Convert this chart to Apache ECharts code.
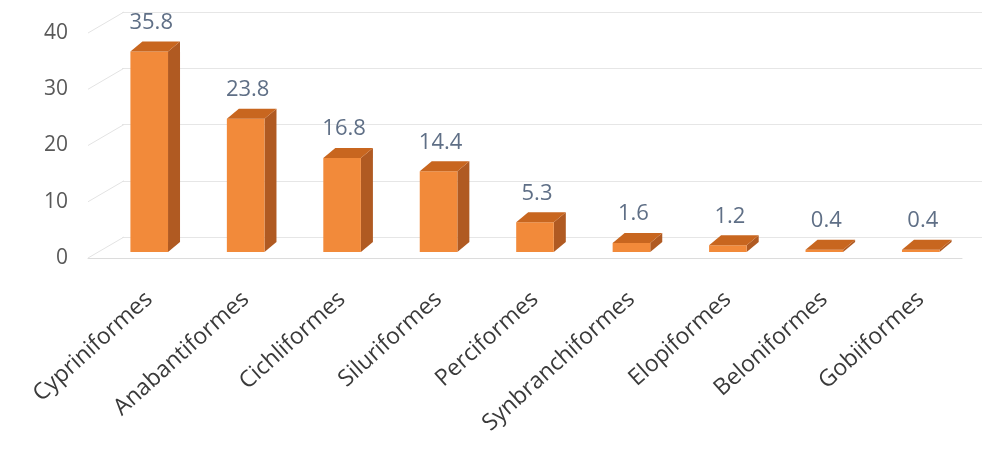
<!DOCTYPE html>
<html>
<head>
<meta charset="utf-8">
<script src="https://cdn.jsdelivr.net/npm/echarts@6/dist/echarts.min.js"></script>
<style>
  html, body { margin: 0; padding: 0; background: #fff; }
  #main { width: 982px; height: 461px; }
</style>
</head>
<body>
<div id="main"></div>
<script>
var categories = ['Cypriniformes', 'Anabantiformes', 'Cichliformes', 'Siluriformes', 'Perciformes',
	'Synbranchiformes', 'Elopiformes', 'Beloniformes', 'Gobiiformes'];
var values = [35.8, 23.8, 16.8, 14.4, 5.3, 1.6, 1.2, 0.4, 0.4];
var yTicks = [0, 10, 20, 30, 40];

var myChart = echarts.init(document.getElementById('main'));

// depth offset for the fake 3D look
var DX = 12, DY = -10;

function renderBar(params, api) {
	var i = api.value(0), v = api.value(1);
	var top = api.coord([i, v]);
	var base = api.coord([i, 0]);
	var w = api.size([1, 0])[0] * 0.39;
	var x0 = top[0] - w / 2, x1 = top[0] + w / 2;
	return {
		type: 'group',
		children: [
			{
				type: 'polygon',
				shape: { points: [[x1, top[1]], [x1 + DX, top[1] + DY], [x1 + DX, base[1] + DY], [x1, base[1]]] },
				style: { fill: '#b05a22' }
			},
			{
				type: 'rect',
				shape: { x: x0, y: top[1], width: w, height: base[1] - top[1] },
				style: { fill: '#f28a3a' }
			},
			{
				type: 'polygon',
				shape: { points: [[x0, top[1]], [x0 + DX, top[1] + DY], [x1 + DX, top[1] + DY], [x1, top[1]]] },
				style: { fill: '#c8661f' }
			},
			{
				type: 'text',
				x: top[0] + 2,
				y: top[1] - 29,
				style: {
					text: String(v),
					fill: '#5f6f86',
					fontSize: 22,
					fontFamily: 'Open Sans',
					align: 'center',
					verticalAlign: 'middle'
				}
			}
		]
	};
}

function renderWall(params, api) {
	var p = api.coord([0, api.value(1)]);
	return {
		type: 'line',
		shape: { x1: p[0], y1: p[1], x2: p[0] + 36, y2: p[1] - 21 },
		style: { stroke: '#e3e3e3', lineWidth: 1 }
	};
}

option = {
	animation: false,
	grid: [
		{ left: 122, right: 0, top: 12, height: 225 },
		{ left: 101, right: 13, top: 28, height: 224 },
		{ left: 88, right: 20, top: 33, height: 225 }
	],
	xAxis: [
		{ gridIndex: 0, type: 'value', min: 0, max: 1, show: false },
		{
			gridIndex: 1,
			type: 'category',
			data: categories,
			axisLine: { show: false },
			axisTick: { show: false },
			axisLabel: {
				rotate: 42,
				margin: 44,
				interval: 0,
				color: '#3a3a3a',
				fontSize: 23,
				fontFamily: 'Open Sans'
			}
		},
		{
			gridIndex: 2, type: 'value', min: 0, max: 1,
			axisLine: { show: true, lineStyle: { color: '#dcdcdc' } },
			axisTick: { show: false },
			axisLabel: { show: false },
			splitLine: { show: false }
		}
	],
	yAxis: [
		{
			gridIndex: 0, type: 'value', min: yTicks[0], max: yTicks[yTicks.length - 1], interval: 10,
			axisLine: { show: false }, axisTick: { show: false }, axisLabel: { show: false },
			splitLine: { lineStyle: { color: '#e6e6e6' } }
		},
		{
			gridIndex: 1, type: 'value', min: yTicks[0], max: yTicks[yTicks.length - 1], interval: 10,
			show: false
		},
		{
			gridIndex: 2, type: 'value', min: yTicks[0], max: yTicks[yTicks.length - 1], interval: 10,
			axisLine: { show: false }, axisTick: { show: false },
			splitLine: { show: false },
			axisLabel: { margin: 20, color: '#595959', fontSize: 21, fontFamily: 'Open Sans' }
		}
	],
	series: [
		{
			type: 'custom',
			xAxisIndex: 2,
			yAxisIndex: 2,
			renderItem: renderWall,
			data: yTicks.map(function (t) { return [0, t]; }),
			silent: true
		},
		{
			type: 'custom',
			xAxisIndex: 1,
			yAxisIndex: 1,
			renderItem: renderBar,
			data: values.map(function (v, i) { return [i, v]; })
		}
	]
};

myChart.setOption(option);
</script>
</body>
</html>
